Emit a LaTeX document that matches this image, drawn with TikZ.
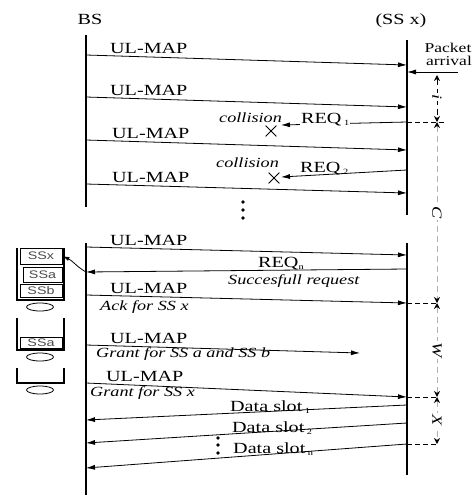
\documentclass[tikz,border=0pt]{standalone}
\usepackage{fontspec}
\setmainfont{Liberation Serif}[FakeStretch=1.3]
\newfontfamily\boxfont{Liberation Sans}[FakeStretch=1.3]
\usetikzlibrary{arrows.meta,shapes.misc,shapes.geometric}
\newcommand{\subx}[1]{\raisebox{-2.5pt}{\fontsize{8}{8}\selectfont #1}}
\begin{document}
\begin{tikzpicture}[x=1pt,y=-1pt,
  lbl/.style={font=\fontsize{15.5}{16}\selectfont, inner sep=0pt, anchor=base west},
  itl/.style={font=\fontsize{14}{15}\selectfont\itshape, inner sep=0pt, anchor=base west},
  msg/.style={line width=0.8pt, -{Latex[length=9pt,width=5pt]}},
  life/.style={line width=1.2pt},
  tickline/.style={line width=0.9pt, dash pattern=on 5pt off 3pt},
  meas/.style={draw=gray!60, line width=1pt, dash pattern=on 6pt off 4pt,
    {Stealth[length=6pt,width=6pt,color=black]}-{Stealth[length=6pt,width=6pt,color=black]}},
  rotl/.style={rotate=-90, fill=white, inner sep=1pt, font=\fontsize{14}{14}\selectfont\itshape},
  ssbox/.style={draw, line width=0.9pt, fill=white, inner sep=0pt,
    font=\boxfont\fontsize{11}{11}\selectfont, text=black!70},
  cont/.style={line width=1.6pt},
  oval/.style={draw, line width=0.8pt, ellipse, minimum width=27pt, minimum height=8pt, inner sep=0pt},
  xmark/.style={draw, cross out, line width=0.8pt, minimum size=10pt, inner sep=0pt},
  dotc/.style={circle, fill, inner sep=0pt, minimum size=3.6pt}
]
\useasboundingbox (0,0) rectangle (476,496);

% headers
\node[font=\fontsize{15.5}{16}\selectfont, inner sep=0pt] (bs) at (90,19) {BS};
\node[font=\fontsize{15.5}{16}\selectfont, inner sep=0pt] (ssx) at (401,21) {(SS x)};

% lifelines
\coordinate (bsA) at (86,35);  \coordinate (bsB) at (86,207);
\coordinate (bsC) at (86,243); \coordinate (bsD) at (86,495);
\coordinate (ssA) at (407,40); \coordinate (ssB) at (407,215);
\coordinate (ssC) at (407,243); \coordinate (ssD) at (407,475);
\draw[life] (bsA) -- (bsB);
\draw[life] (bsC) -- (bsD);
\draw[life] (ssA) -- (ssB);
\draw[life] (ssC) -- (ssD);

% packet arrival
\node[inner sep=0pt, anchor=base, font=\fontsize{13.5}{13.5}\selectfont] (pa1) at (448,52) {Packet};
\node[inner sep=0pt, anchor=base, font=\fontsize{13.5}{13.5}\selectfont] (pa2) at (449,65) {arrival};
\coordinate (paR) at (458,72); \coordinate (paS) at (407,72);
\draw[msg] (paR) -- (paS);

% message 1
\coordinate (m1b) at (86,55); \coordinate (m1s) at (407,65);
\draw[msg] (m1b) -- (m1s);
\node[lbl] (l1) at (110,53) {UL-MAP};
% message 2
\coordinate (m2b) at (86,97); \coordinate (m2s) at (407,107);
\draw[msg] (m2b) -- (m2s);
\node[lbl] (l2) at (110,95) {UL-MAP};
% REQ 1
\coordinate (r1s) at (407,122); \coordinate (r1e) at (281,125);
\draw[msg] (r1s) -- (r1e);
\node[lbl, fill=white, inner sep=1pt] (q1) at (300,123) {REQ\,\subx{1}};
\node[itl] (c1) at (219,122) {collision};
\node[xmark] (x1) at (271,131) {};
% message 3
\coordinate (m3b) at (86,140); \coordinate (m3s) at (407,150);
\draw[msg] (m3b) -- (m3s);
\node[lbl] (l3) at (112,138) {UL-MAP};
% REQ 2
\coordinate (r2s) at (407,170); \coordinate (r2e) at (281,177);
\draw[msg] (r2s) -- (r2e);
\node[lbl] (q2) at (300,172) {REQ\,\subx{2}};
\node[itl] (c2) at (216,167) {collision};
\node[xmark] (x2) at (274,178) {};
% message 4
\coordinate (m4b) at (86,184); \coordinate (m4s) at (407,193);
\draw[msg] (m4b) -- (m4s);
\node[lbl] (l4) at (112,182) {UL-MAP};
\node[dotc] (d1) at (243,202) {};
\node[dotc] (d2) at (243,210) {};
\node[dotc] (d3) at (243,218) {};

% message 5
\coordinate (m5b) at (86,247); \coordinate (m5s) at (407,255);
\draw[msg] (m5b) -- (m5s);
\node[lbl] (l5) at (110,245) {UL-MAP};
% REQ n
\coordinate (rns) at (407,269); \coordinate (rne) at (86,272);
\draw[msg] (rns) -- (rne);
\node[lbl] (qn) at (258,267) {REQ\subx{n}};
\node[itl] (sr) at (228,284) {Succesfull request};
% message 6
\coordinate (m6b) at (86,295); \coordinate (m6s) at (407,303);
\draw[msg] (m6b) -- (m6s);
\node[lbl] (l6) at (110,293) {UL-MAP};
\node[itl] (ack) at (100,310) {Ack for SS x};
% message 7
\coordinate (m7b) at (86,345); \coordinate (m7e) at (360,353);
\draw[msg] (m7b) -- (m7e);
\node[lbl] (l7) at (110,343) {UL-MAP};
\node[itl] (g1) at (96,357) {Grant for SS a and SS b};
% message 8
\coordinate (m8b) at (86,383); \coordinate (m8s) at (407,397);
\draw[msg] (m8b) -- (m8s);
\node[lbl] (l8) at (106,381) {UL-MAP};
\node[itl] (g2) at (90,396) {Grant for SS x};
% data slots
\coordinate (ds1s) at (407,405); \coordinate (ds1b) at (86,420);
\draw[msg] (ds1s) -- (ds1b);
\node[lbl] (dl1) at (230,411) {Data slot\,\subx{1}};
\coordinate (ds2s) at (407,423); \coordinate (ds2b) at (86,443);
\draw[msg] (ds2s) -- (ds2b);
\node[lbl] (dl2) at (232,432) {Data slot\,\subx{2}};
\coordinate (dsns) at (407,444); \coordinate (dsnb) at (86,468);
\draw[msg] (dsns) -- (dsnb);
\node[lbl] (dln) at (233,453) {Data slot\,\subx{n}};
\node[dotc] (d4) at (218,438) {};
\node[dotc] (d5) at (218,445) {};
\node[dotc] (d6) at (218,453) {};

% timing marks
\coordinate (t0) at (437,75);  \coordinate (t1) at (437,122);
\coordinate (t2) at (437,303); \coordinate (t3) at (437,397);
\coordinate (t4) at (437,444); \coordinate (t1e) at (445,122);
\draw[tickline] (r1s) -- (t1e);
\draw[tickline] (m6s) -- (t2);
\draw[tickline] (m8s) -- (t3);
\draw[tickline] (dsns) -- (t4);
\draw[meas, draw=black] (t0) -- (t1);
\draw[meas] (t1) -- (t2);
\draw[meas] (t2) -- (t3);
\draw[meas] (t3) -- (t4);
\node[rotl] (ti) at (437,97) {i};
\node[rotl] (tc) at (437,213) {C};
\node[rotl] (tw) at (437,350) {W};
\node[rotl] (tx) at (437,420) {X};

% queues
\draw[cont] (17,248) -- (17,300) -- (64,300) -- (64,248);
\node[ssbox, minimum width=42pt, minimum height=16pt] (SSx) at (41,256) {SSx};
\node[ssbox, minimum width=39pt, minimum height=15pt] (SSa) at (42.5,274.5) {SSa};
\node[ssbox, minimum width=42pt, minimum height=13pt] (SSb) at (41,291) {SSb};
\node[oval] (o1) at (40,307) {};
\draw[cont] (17,318) -- (17,350) -- (64,350) -- (64,318);
\node[ssbox, minimum width=42pt, minimum height=11pt] (SSa2) at (41,342.5) {SSa};
\node[oval] (o2) at (40,357) {};
\draw[cont] (17,368) -- (17,383) -- (64,383) -- (64,368);
\node[oval] (o3) at (40,390) {};

\draw[line width=0.8pt, -{Latex[length=7pt,width=4pt]}] (rne) to[out=150,in=-25] (SSx.east);
\end{tikzpicture}
\end{document}
